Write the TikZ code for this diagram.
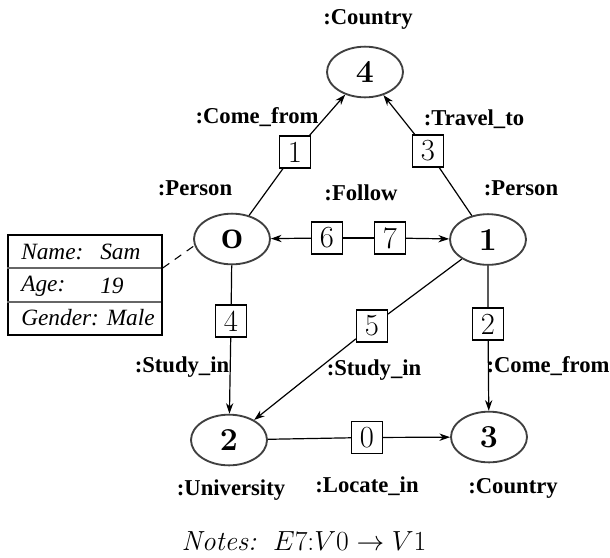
\documentclass[tikz,border=0pt]{standalone}
\usepackage{fontspec}
\newfontfamily\lblfont{Liberation Serif}
\newfontfamily\cellfont{Liberation Serif Italic}
\usetikzlibrary{shapes.geometric,arrows.meta}
\begin{document}
\begin{tikzpicture}[x=0.75pt,y=-0.75pt,
  vertex/.style={ellipse,draw=black!75,line width=1.4pt,minimum width=57pt,
    minimum height=38pt,inner sep=0pt,font=\fontsize{24}{28}\selectfont\bfseries},
  edgebox/.style={rectangle,draw=black,line width=1.1pt,fill=white,
    minimum width=23pt,minimum height=24pt,inner sep=0pt,
    font=\fontsize{23}{26}\selectfont},
  tag/.style={font=\lblfont\fontsize{17}{20}\selectfont\bfseries,inner sep=0pt},
  link/.style={line width=0.9pt,-{Stealth[length=8pt,width=5.5pt]}},
  plain/.style={line width=0.9pt},
  cell/.style={font=\cellfont\fontsize{17.5}{20}\selectfont,anchor=west,inner sep=0pt}
]
\useasboundingbox (0,0) rectangle (610,557);

% vertices
\node[vertex] (n4) at (365,72) {4};
\node[vertex] (n0) at (232,239) {\lblfont\bfseries\fontsize{21}{24}\selectfont O};
\node[vertex] (n1) at (488,239.5) {1};
\node[vertex] (n2) at (229,440) {2};
\node[vertex] (n3) at (489,437) {3};

% edge ids
\node[edgebox] (b1) at (295,152) {1};
\node[edgebox] (b3) at (428,151) {3};
\node[edgebox] (b6) at (327,238) {6};
\node[edgebox] (b7) at (390,238) {7};
\node[edgebox] (b4) at (231,321) {4};
\node[edgebox] (b5) at (372,326) {5};
\node[edgebox] (b2) at (488,324) {2};
\node[edgebox] (b0) at (367,437.5) {0};

% edges
\draw[link] (n0) -- (b1) -- (n4);
\draw[link] (n1) -- (b3) -- (n4);
\draw[link] (b6) -- (n0);
\draw[plain] (b6) -- (b7);
\draw[link] (b7) -- (n1);
\draw[link] (n0) -- (b4) -- (n2);
\draw[link] (n1) -- (b5) -- (n2);
\draw[link] (n1) -- (b2) -- (n3);
\draw[link] (n2) -- (b0) -- (n3);

% type and relation labels
\node[tag] (t4) at (368,19) {:Country};
\node[tag] (l1) at (257,117) {:Come\_from};
\node[tag] (l3) at (474,119) {:Travel\_to};
\node[tag] (t0) at (195,188) {:Person};
\node[tag] (lf) at (361,193) {:Follow};
\node[tag] (t1) at (521,188) {:Person};
\node[tag] (l4) at (182,367) {:Study\_in};
\node[tag] (l5) at (374,370) {:Study\_in};
\node[tag] (l2) at (548,366) {:Come\_from};
\node[tag] (t2) at (231,490) {:University};
\node[tag] (l0) at (367,486) {:Locate\_in};
\node[tag] (t3) at (513,488) {:Country};

% attribute table of vertex 0
\node[draw=black,line width=1.1pt,minimum width=115.5pt,minimum height=75pt,
  inner sep=0pt] (tbl) at (85,285) {};
\draw[black!60,line width=1pt] (tbl.west |- 0,268) -- (161,268);
\draw[black!60,line width=1pt] (tbl.west |- 0,302) -- (161,302);
\node[cell] (c1) at (21,252) {Name:};
\node[cell] (c2) at (100,252) {Sam};
\node[cell] (c3) at (21,286) {Age:};
\node[cell] (c4) at (100,286) {19};
\node[cell] (c5) at (21,318) {Gender: Male};
\coordinate (tbljoint) at (tbl.east |- 0,268);
\draw[line width=0.8pt,dash pattern=on 6pt off 5pt] (tbljoint) -- (n0.190);

% note
\node[font=\fontsize{20.74}{24}\selectfont] (note) at (304,541)
  {\textit{Notes:}\ \ $E7$:$V0\rightarrow V1$};
\end{tikzpicture}
\end{document}
